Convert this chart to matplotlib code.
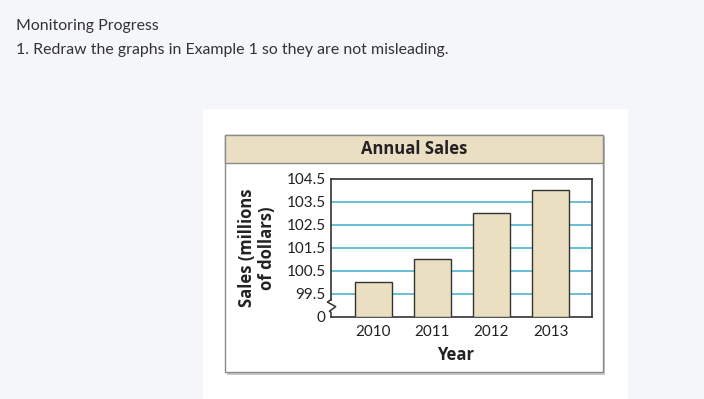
import matplotlib.pyplot as plt
from matplotlib.patches import Rectangle

# data
years = ["2010", "2011", "2012", "2013"]
sales = [100.0, 101.0, 103.0, 104.0]
ytick_vals = [98.5, 99.5, 100.5, 101.5, 102.5, 103.5, 104.5]
ytick_labels = ["0", "99.5", "100.5", "101.5", "102.5", "103.5", "104.5"]

W, H = 704, 399


def px(x0, y0, x1, y1):
    # pixel box -> figure fraction [left, bottom, width, height]
    return [x0 / W, 1 - y1 / H, (x1 - x0) / W, (y1 - y0) / H]


fig = plt.figure(figsize=(W / 100, H / 100), dpi=100, facecolor="#f4f6f9")

# header text
fig.text(16 / W, 1 - 26 / H, "Monitoring Progress", family="Lato", fontsize=11.4,
         color="#333333", va="center", ha="left")
fig.text(16 / W, 1 - 50 / H, "1. Redraw the graphs in Example 1 so they are not misleading.",
         family="Lato", fontsize=11.4, color="#333333", va="center", ha="left")

# white card
fig.patches.append(Rectangle((203 / W, 0), 425 / W, 290 / H,
                             transform=fig.transFigure, facecolor="white", edgecolor="none"))
# panel shadow + panel
fig.patches.append(Rectangle((227 / W, 1 - 375 / H), 378 / W, 238 / H,
                             transform=fig.transFigure, facecolor="#c8c8c8", edgecolor="none"))
fig.patches.append(Rectangle((225 / W, 1 - 372 / H), 378 / W, 237 / H,
                             transform=fig.transFigure, facecolor="white", edgecolor="#8a8a8a", lw=1))
# title band
fig.patches.append(Rectangle((225 / W, 1 - 163 / H), 378 / W, 28 / H,
                             transform=fig.transFigure, facecolor="#eadfc2", edgecolor="#8a8a8a", lw=1))
fig.text(414 / W, 1 - 149 / H, "Annual Sales", family="Open Sans", fontweight="bold",
         fontsize=12, color="#222222", ha="center", va="center")

ax = fig.add_axes(px(331, 179, 592, 317))
ax.set_zorder(5)
ax.patch.set_visible(False)
x = range(len(years))
ax.bar(x, [s - 98.5 for s in sales], bottom=98.5, width=0.62, color="#ebdfc1",
       edgecolor="#333333", linewidth=1, zorder=3)

ax.set_xlim(-0.716, 3.70)
ax.set_ylim(98.5, 104.5)
ax.set_yticks(ytick_vals)
ax.set_yticklabels(ytick_labels)
ax.set_xticks(list(x))
ax.set_xticklabels(years)
for v in ytick_vals[1:-1]:
    ax.axhline(v, color="#5bbad0", lw=1.3, zorder=1)
ax.tick_params(axis="y", length=0, pad=4, labelsize=11, labelcolor="#222222")
ax.tick_params(axis="x", length=0, pad=6, labelsize=11, labelcolor="#222222")
for lab in ax.get_xticklabels() + ax.get_yticklabels():
    lab.set_family("Lato")
for sp in ax.spines.values():
    sp.set_color("#333333")
    sp.set_linewidth(1.2)

# axis break on the left spine
ax.spines["left"].set_bounds(99.25, 104.5)
tr = ax.get_yaxis_transform()
ax.plot([0, -0.014, 0.018, -0.006, 0, 0], [99.25, 99.15, 98.95, 98.75, 98.7, 98.5],
        color="#333333", lw=1.1, transform=tr, clip_on=False, zorder=5)

fig.text(456 / W, 1 - 355 / H, "Year", family="Open Sans", fontweight="bold", fontsize=12,
         color="#222222", ha="center", va="center")
fig.text(257 / W, 1 - 248 / H, "Sales (millions\nof dollars)", family="Open Sans",
         fontweight="bold", fontsize=12, color="#222222", rotation=90,
         ha="center", va="center", linespacing=1.2)

fig.savefig("out.png", dpi=100, facecolor=fig.get_facecolor())
